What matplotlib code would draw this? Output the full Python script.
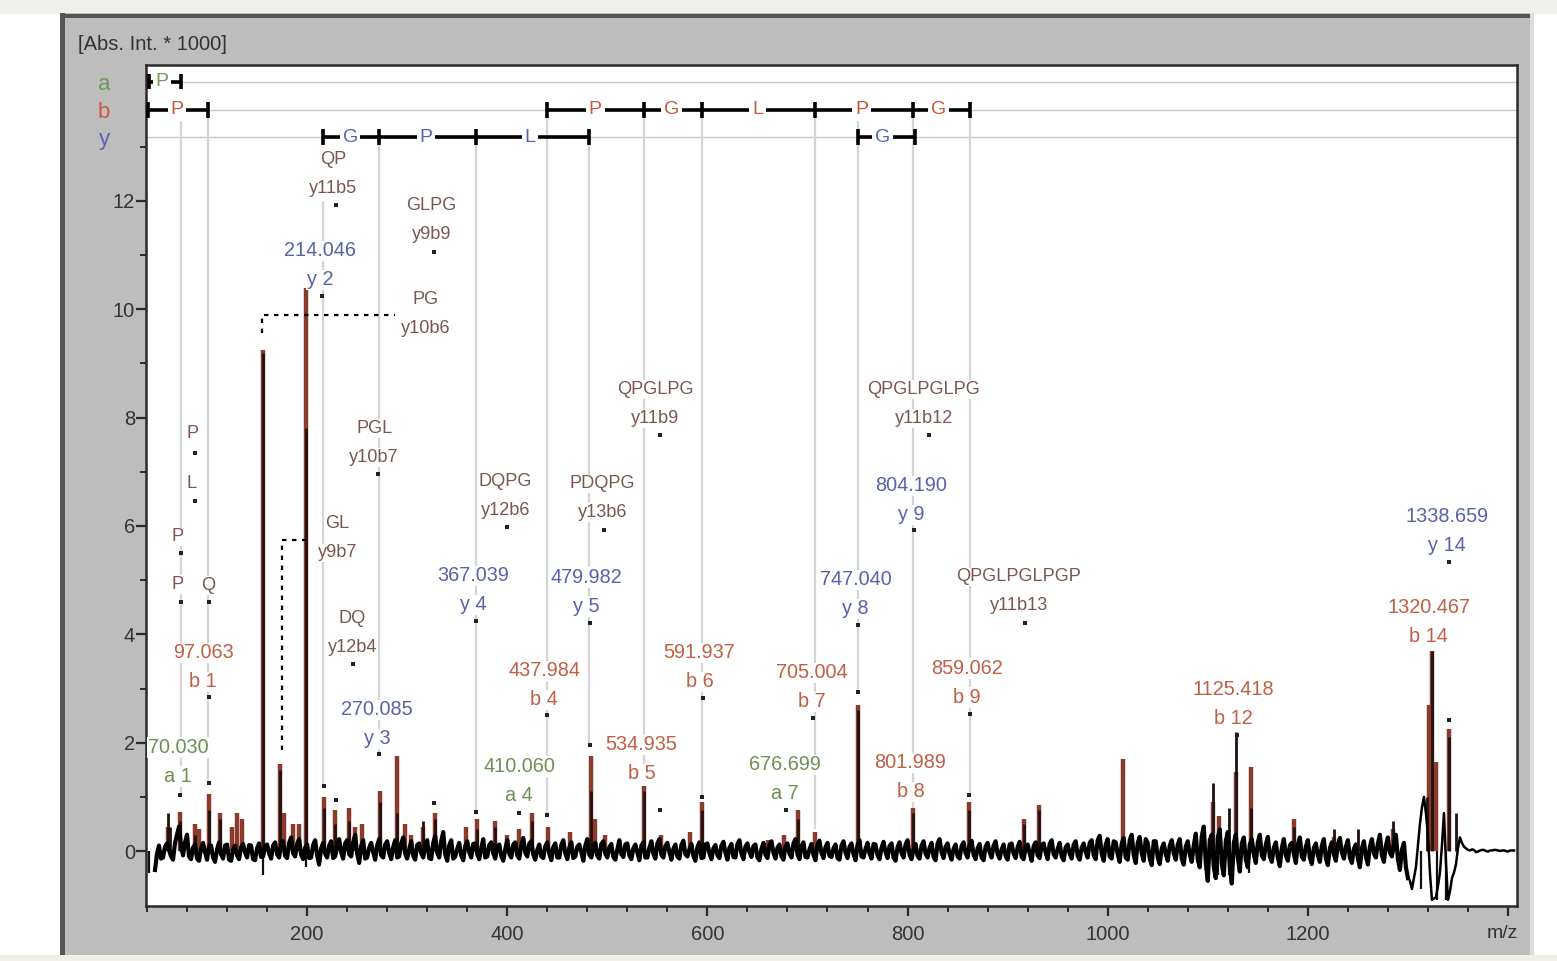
import matplotlib
matplotlib.use('Agg')
import numpy as np
import matplotlib.pyplot as plt
from matplotlib.patches import Rectangle

plt.rcParams['font.family'] = ['Liberation Sans', 'DejaVu Sans']

# black profile trace, read every 4 m/z from 48 up
profile = [
 -0.35, 0.10, -0.12, 0.14, -0.10, 0.15, 0.45, -0.08, 0.30, -0.15,
 0.12, -0.18, 0.15, -0.16, 0.10, -0.20, 0.16, -0.14, 0.12, -0.18,
 0.10, -0.15, 0.13, -0.12, 0.10, -0.17, 0.14, -0.10, 0.12, -0.14,
 0.16, -0.12, 0.18, -0.13, 0.25, -0.10, 0.22, -0.15, 0.12, -0.12,
 0.20, -0.25, 0.15, -0.12, 0.18, -0.10, 0.22, -0.14, 0.20, -0.10,
 0.30, -0.22, 0.20, -0.12, 0.15, -0.16, 0.22, -0.12, 0.18, -0.15,
 0.20, -0.10, 0.25, -0.14, 0.18, -0.16, 0.14, -0.12, 0.20, -0.15,
 0.28, -0.12, 0.35, -0.18, 0.20, -0.10, 0.15, -0.17, 0.18, -0.12,
 0.14, -0.15, 0.22, -0.10, 0.16, -0.14, 0.12, -0.18, 0.20, -0.12,
 0.16, -0.14, 0.24, -0.10, 0.18, -0.16, 0.12, -0.13, 0.16, -0.17,
 0.14, -0.12, 0.20, -0.15, 0.16, -0.10, 0.12, -0.18, 0.22, -0.12,
 0.15, -0.14, 0.18, -0.12, 0.13, -0.16, 0.20, -0.11, 0.14, -0.15,
 0.12, -0.17, 0.16, -0.12, 0.18, -0.14, 0.22, -0.12, 0.15, -0.16,
 0.12, -0.14, 0.19, -0.10, 0.13, -0.18, 0.16, -0.12, 0.14, -0.15,
 0.11, -0.13, 0.17, -0.16, 0.13, -0.12, 0.20, -0.15, 0.14, -0.11,
 0.12, -0.17, 0.15, -0.13, 0.18, -0.14, 0.12, -0.16, 0.14, -0.12,
 0.22, -0.15, 0.16, -0.12, 0.13, -0.17, 0.19, -0.13, 0.15, -0.11,
 0.12, -0.16, 0.18, -0.13, 0.14, -0.17, 0.20, -0.12, 0.15, -0.14,
 0.12, -0.15, 0.17, -0.13, 0.14, -0.18, 0.16, -0.12, 0.20, -0.15,
 0.13, -0.14, 0.18, -0.12, 0.15, -0.17, 0.22, -0.13, 0.14, -0.16,
 0.12, -0.14, 0.16, -0.12, 0.19, -0.15, 0.13, -0.17, 0.15, -0.12,
 0.18, -0.14, 0.12, -0.16, 0.14, -0.13, 0.17, -0.15, 0.12, -0.18,
 0.16, -0.13, 0.14, -0.15, 0.20, -0.12, 0.15, -0.17, 0.12, -0.14,
 0.18, -0.16, 0.14, -0.12, 0.20, -0.15, 0.28, -0.18, 0.22, -0.14,
 0.16, -0.20, 0.24, -0.16, 0.30, -0.22, 0.26, -0.18, 0.15, -0.26,
 0.18, -0.24, 0.14, -0.18, 0.20, -0.16, 0.22, -0.25, 0.18, -0.20,
 0.32, -0.30, 0.45, -0.55, 0.30, -0.50, 0.40, -0.45, 0.35, -0.60,
 0.30, -0.38, 0.25, -0.30, 0.22, -0.22, 0.30, -0.15, 0.26, -0.20,
 0.16, -0.28, 0.22, -0.18, 0.15, -0.22, 0.25, -0.16, 0.20, -0.24,
 0.14, -0.20, 0.22, -0.26, 0.16, -0.18, 0.24, -0.14, 0.20, -0.22,
 0.12, -0.30, 0.18, -0.25, 0.22, -0.12, 0.30, -0.20, 0.25, -0.10,
 0.30, -0.35, 0.15, -0.50, -0.70, -0.30, 0.50, 1.00, 0.30, -0.90,
 -0.85, -0.40, 0.70, -0.90, -0.50, -0.25, 0.25, 0.08, 0.02, 0.03,
 -0.02, 0.01, 0.02, -0.01, 0.01, 0.02, 0.00, 0.01, -0.01, 0.01,
]

# same trace, the points lying between the ones above
profile_mid = [
 -0.05, -0.14, 0.08, 0.02, -0.16, 0.30, 0.10, 0.16, -0.10, 0.06,
 -0.14, 0.04, -0.02, 0.09, -0.12, 0.03, -0.06, 0.10, -0.16, 0.02,
 -0.08, 0.07, -0.03, 0.11, -0.15, 0.05, -0.11, 0.08, -0.04, 0.10,
 -0.06, 0.12, -0.09, 0.15, -0.04, 0.13, -0.07, 0.06, -0.13, 0.11,
 -0.08, 0.05, -0.05, 0.10, -0.13, 0.07, -0.02, 0.14, -0.06, 0.16,
 -0.05, 0.09, -0.14, 0.06, -0.02, 0.10, -0.08, 0.12, -0.03, 0.07,
 -0.12, 0.14, -0.05, 0.03, -0.09, 0.11, -0.04, 0.08, -0.13, 0.15,
 -0.03, 0.18, -0.06, 0.10, -0.14, 0.04, -0.08, 0.09, -0.02, 0.13,
 -0.06, 0.05, -0.12, 0.11, -0.04, 0.08, -0.09, 0.03, -0.05, 0.12,
 -0.08, 0.10, -0.03, 0.14, -0.07, 0.02, -0.10, 0.09, -0.05, 0.07,
 -0.12, 0.11, -0.04, 0.06, -0.13, 0.08, -0.02, 0.10, -0.07, 0.04,
 -0.09, 0.13, -0.05, 0.07, -0.11, 0.03, -0.06, 0.12, -0.08, 0.05,
 -0.03, 0.10, -0.12, 0.06, -0.05, 0.14, -0.07, 0.09, -0.02, 0.04,
 -0.10, 0.11, -0.06, 0.03, -0.09, 0.07, -0.13, 0.12, -0.04, 0.05,
 -0.08, 0.10, -0.03, 0.06, -0.11, 0.13, -0.05, 0.08, -0.02, 0.09,
 -0.12, 0.04, -0.07, 0.11, -0.03, 0.06, -0.10, 0.08, -0.05, 0.14,
 -0.06, 0.09, -0.11, 0.03, -0.07, 0.12, -0.04, 0.07, -0.09, 0.05,
 -0.13, 0.10, -0.03, 0.08, -0.06, 0.11, -0.10, 0.04, -0.05, 0.13,
 -0.08, 0.06, -0.02, 0.09, -0.12, 0.07, -0.04, 0.12, -0.07, 0.03,
 -0.09, 0.10, -0.05, 0.06, -0.11, 0.14, -0.03, 0.08, -0.06, 0.04,
 -0.10, 0.09, -0.04, 0.11, -0.07, 0.05, -0.12, 0.08, -0.02, 0.10,
 -0.06, 0.03, -0.09, 0.12, -0.05, 0.07, -0.11, 0.06, -0.04, 0.09,
 -0.08, 0.11, -0.03, 0.13, -0.06, 0.04, -0.10, 0.07, -0.05, 0.12,
 -0.09, 0.06, -0.02, 0.15, -0.08, 0.20, -0.05, 0.12, -0.10, 0.18,
 -0.06, 0.14, -0.12, 0.20, -0.08, 0.15, -0.04, 0.22, -0.14, 0.18,
 -0.12, 0.05, -0.06, 0.10, -0.04, 0.12, -0.14, 0.08, -0.06, 0.10,
 -0.16, 0.28, -0.22, 0.20, -0.30, 0.25, -0.24, 0.18, -0.28, 0.15,
 -0.12, 0.14, -0.16, 0.12, -0.06, 0.16, -0.08, 0.12, -0.10, 0.06,
 -0.12, 0.06, -0.08, 0.10, -0.05, 0.12, -0.10, 0.08, -0.12, 0.06,
 -0.08, 0.10, -0.14, 0.05, -0.06, 0.12, -0.03, 0.08, -0.12, 0.04,
 -0.14, 0.05, -0.10, 0.08, -0.04, 0.14, -0.08, 0.10, -0.03, 0.12,
 -0.15, 0.02, -0.30, -0.55, -0.50, 0.10, 0.80, 0.70, -0.40, -0.88,
 -0.65, 0.10, -0.20, -0.75, -0.40, 0.05, 0.15, 0.05, 0.01, 0.02,
 -0.01, 0.02, 0.00, 0.01, 0.02, 0.01, 0.01, 0.00, 0.01, 0.01,
]

# assigned (red) sticks
red_mz = [61, 73, 88, 92, 102, 113, 125, 130, 135, 156, 173, 177, 186, 192, 199, 217, 228, 242, 248, 255,
          273, 290, 298, 304, 316, 328, 359, 370, 388, 400, 412, 425, 441, 463, 484, 488, 498,
          537, 554, 583, 595, 661, 677, 691, 708, 750, 805, 861, 916, 931, 1015, 1105, 1111,
          1128, 1143, 1186, 1226, 1285, 1321, 1324, 1328, 1341]
red_h = [0.45, 0.72, 0.50, 0.40, 1.05, 0.70, 0.45, 0.70, 0.60, 9.25, 1.60, 0.70, 0.50, 0.50, 10.40, 1.00, 0.75, 0.80, 0.45, 0.50,
         1.10, 1.75, 0.50, 0.30, 0.45, 0.70, 0.45, 0.60, 0.55, 0.30, 0.40, 0.70, 0.45, 0.35, 1.75, 0.60, 0.30,
         1.20, 0.30, 0.35, 0.90, 0.20, 0.30, 0.75, 0.35, 2.70, 0.80, 0.90, 0.60, 0.85, 1.70, 0.90, 0.65,
         1.45, 1.55, 0.60, 0.25, 0.40, 2.70, 3.70, 1.65, 2.25]

# black profile peak tops
black_mz = [61, 63, 73, 88, 102, 113, 156, 173, 199, 217, 228, 242, 273, 290, 316, 328, 370, 388, 425, 484,
            537, 595, 691, 750, 805, 861, 916, 931, 1105, 1121, 1128, 1143, 1186, 1226, 1250, 1285, 1319, 1324, 1341, 1348]
black_h = [0.70, 0.45, 0.55, 0.30, 0.75, 0.60, 9.20, 1.50, 7.80, 0.80, 0.50, 0.55, 0.90, 0.70, 0.55, 0.60, 0.40, 0.45, 0.55, 1.10,
           1.10, 0.75, 0.60, 2.60, 0.70, 0.75, 0.50, 0.75, 1.25, 0.80, 2.20, 0.80, 0.45, 0.40, 0.40, 0.55, 1.00, 3.70, 2.10, 0.70]

# negative spikes
dip_mz = [42, 156, 199, 1110, 1121, 1141, 1313, 1329, 1338]
dip_h = [-0.40, -0.45, -0.30, -0.45, -0.45, -0.40, -0.70, -0.90, -0.90]

# annotation: first line, second line, m/z, intensity of first line
a_labels = [('70.030', 'a 1', 71, 1.91), ('410.060', 'a 4', 412, 1.56), ('676.699', 'a 7', 677, 1.59)]
b_labels = [('97.063', 'b 1', 96, 3.66), ('437.984', 'b 4', 437, 3.33), ('534.935', 'b 5', 534, 1.96),
            ('591.937', 'b 6', 592, 3.66), ('705.004', 'b 7', 704, 3.29), ('801.989', 'b 8', 803, 1.63),
            ('859.062', 'b 9', 859, 3.37), ('1125.418', 'b 12', 1126, 2.98), ('1320.467', 'b 14', 1321, 4.49)]
y_labels = [('214.046', 'y 2', 213, 11.08), ('270.085', 'y 3', 270, 2.61), ('367.039', 'y 4', 366, 5.08),
            ('479.982', 'y 5', 479, 5.05), ('747.040', 'y 8', 748, 5.01), ('804.190', 'y 9', 804, 6.74),
            ('1338.659', 'y 14', 1339, 6.17)]
int_labels = [('QP', 'y11b5', 226, 12.76), ('GLPG', 'y9b9', 324, 11.91), ('PG', 'y10b6', 318, 10.18),
              ('PGL', 'y10b7', 267, 7.80), ('GL', 'y9b7', 230, 6.04), ('DQ', 'y12b4', 245, 4.29),
              ('DQPG', 'y12b6', 398, 6.82), ('PDQPG', 'y13b6', 495, 6.78), ('QPGLPG', 'y11b9', 548, 8.52),
              ('QPGLPGLPG', 'y11b12', 816, 8.52), ('QPGLPGLPGP', 'y11b13', 911, 5.06)]
single_labels = [('P', 86, 7.70), ('L', 85, 6.78), ('P', 71, 5.80), ('P', 71, 4.92), ('Q', 101, 4.90)]

dot_mz = [88, 88, 74, 74, 102, 229, 327, 215, 271, 369, 483, 750, 806, 1341, 917, 1129, 102, 440, 596, 706,
          862, 553, 73, 412, 679, 272, 400, 497, 553, 821, 246, 750, 483, 537, 1341, 861, 595, 217, 229, 102,
          327, 369, 440]
dot_y = [7.35, 6.46, 5.50, 4.60, 4.60, 11.93, 11.06, 10.25, 6.96, 4.25, 4.21, 4.17, 5.93, 5.34, 4.21, 2.14, 2.84, 2.51, 2.82, 2.46,
         2.53, 0.75, 1.03, 0.70, 0.76, 1.79, 5.98, 5.93, 7.68, 7.68, 3.45, 2.93, 1.96, 1.30, 2.42, 1.03, 1.00, 1.20, 0.95, 1.25,
         0.88, 0.72, 0.66]

# gray guide lines from the sequence ladder down to the peak
guide_mz = [74, 101, 216, 272, 369, 440, 482, 537, 595, 708, 750, 805, 862]
guide_top = [13.7, 13.7, 12.0, 13.2, 13.2, 13.7, 13.2, 13.7, 13.7, 13.7, 13.7, 13.7, 13.7]
guide_end = [1.03, 1.25, 1.20, 1.79, 0.72, 0.66, 1.96, 1.30, 1.00, 0.40, 2.93, 0.80, 1.03]

# sequence ladder
row_names = ['a', 'b', 'y']
row_y = [14.2, 13.68, 13.18]
row_col = ['#6f9a5c', '#c9583c', '#5a64b0']
ladder_ticks = [
    [[42, 74]],
    [[41, 101], [440, 537, 595, 708, 805, 862]],
    [[216, 272, 369, 482], [750, 807]],
]
ladder_letters = [
    [('P', 55)],
    [('P', 70), ('P', 488), ('G', 564), ('L', 650), ('P', 754), ('G', 831)],
    [('G', 243), ('P', 319), ('L', 423), ('G', 775)],
]

GREEN = '#6f8f55'
ORANGE = '#bf5f43'
BLUE = '#5862a8'
BROWN = '#7c5650'
RED = '#8c3a2b'

fig = plt.figure(figsize=(15.57, 9.61), dpi=100, facecolor='white')
fig.add_artist(Rectangle((0, 1-14/961), 1, 14/961, transform=fig.transFigure,
                         facecolor='#f1efe9', edgecolor='none', zorder=-3))
fig.add_artist(Rectangle((0, 0), 1, 6/961, transform=fig.transFigure,
                         facecolor='#f1efe9', edgecolor='none', zorder=-3))
fig.add_artist(Rectangle((60/1557, 1-955/961), 1474/1557, 942/961, transform=fig.transFigure,
                         facecolor='#bdbdbd', edgecolor='none', zorder=-2))
fig.add_artist(Rectangle((60/1557, 1-18/961), 1474/1557, 4/961, transform=fig.transFigure,
                         facecolor='#555555', edgecolor='none', zorder=-1))
fig.add_artist(Rectangle((60/1557, 1-955/961), 5/1557, 942/961, transform=fig.transFigure,
                         facecolor='#555555', edgecolor='none', zorder=-1))
fig.add_artist(Rectangle((1530/1557, 1-955/961), 4/1557, 942/961, transform=fig.transFigure,
                         facecolor='#dedddb', edgecolor='none', zorder=-1))

ax = fig.add_axes([146/1557, 1-906/961, 1371/1557, 841/961])
ax.set_xlim(39, 1409)
ax.set_ylim(-1.015, 14.51)
for s in ax.spines.values():
    s.set_color('#2a2a2a')
    s.set_linewidth(1.8)

for y in row_y:
    ax.axhline(y, color='#c8c8c8', lw=1, zorder=1)
ax.vlines(guide_mz, guide_end, guide_top, color='#d2d4d6', lw=1.6, zorder=1)

ax.vlines(red_mz, 0, red_h, color=RED, lw=3.2, zorder=2)
ax.vlines(black_mz, 0, black_h, color='#1f1210', lw=2.0, zorder=3)
ax.vlines(dip_mz, 0, dip_h, color='#111111', lw=1.6, zorder=3)
trace = np.empty(len(profile) * 2)
trace[::2] = profile
trace[1::2] = profile_mid
trace_mz = 48 + 2 * np.arange(len(trace))
# the noise band is thick, the part after the last cluster is a thin line
thick = trace_mz <= 1300
ax.plot(trace_mz[thick], trace[thick], color='black', lw=3.0, zorder=4)
ax.plot(trace_mz[~thick], trace[~thick], color='black', lw=1.8, zorder=4)

# dotted fragment links
ax.plot([155, 155, 288], [9.56, 9.90, 9.90], color='black', lw=1.6, ls=(0, (2, 2.5)), zorder=4)
ax.plot([175, 175, 203], [1.86, 5.74, 5.74], color='black', lw=1.6, ls=(0, (2, 2.5)), zorder=4)
ax.scatter(dot_mz, dot_y, s=7, color='#222222', marker='s', zorder=5, linewidths=0)

for i, ticks in enumerate(ladder_ticks):
    for group in ticks:
        ax.hlines(row_y[i], group[0], group[-1], color='black', lw=2.6, zorder=4)
        ax.vlines(group, row_y[i] - 0.14, row_y[i] + 0.14, color='black', lw=2.6, zorder=4)
    for letter, mz in ladder_letters[i]:
        ax.text(mz, row_y[i], letter, color=row_col[i], fontsize=14, ha='center', va='center', zorder=6,
                bbox=dict(facecolor='white', edgecolor='none', pad=2))

def put_labels(labels, color, size=14.3):
    for top, bottom, mz, y in labels:
        ax.text(mz, y, top, color=color, fontsize=size, ha='center', va='center', zorder=6,
                bbox=dict(facecolor='white', edgecolor='none', pad=0.5))
        ax.text(mz, y - 0.535, bottom, color=color, fontsize=size, ha='center', va='center', zorder=6,
                bbox=dict(facecolor='white', edgecolor='none', pad=0.5))

put_labels(a_labels, GREEN)
put_labels(b_labels, ORANGE)
put_labels(y_labels, BLUE)
put_labels(int_labels, BROWN, size=13.1)
for letter, mz, y in single_labels:
    ax.text(mz, y, letter, color=BROWN, fontsize=13.1, ha='center', va='center', zorder=6,
            bbox=dict(facecolor='white', edgecolor='none', pad=0.5))

ax.set_xticks([200, 400, 600, 800, 1000, 1200, 1400])
ax.set_xticklabels(['200', '400', '600', '800', '1000', '1200', ''])
ax.set_xticks(np.arange(40, 1401, 40), minor=True)
ax.set_yticks([0, 2, 4, 6, 8, 10, 12])
ax.set_yticks([1, 3, 5, 7, 9, 11, 13], minor=True)
ax.tick_params(axis='both', which='major', length=7, width=1.6, color='#2a2a2a', labelsize=14.5,
               labelcolor='#333333', pad=7)
ax.tick_params(axis='y', which='major', pad=1)
ax.tick_params(axis='both', which='minor', length=4, width=1.4, color='#2a2a2a')

for i, name in enumerate(row_names):
    fig.text(104/1557, 1-(85 + 27*i)/961, name, color=row_col[i], fontsize=16, ha='center', va='center')
fig.text(78/1557, 1-44/961, '[Abs. Int. * 1000]', color='#333333', fontsize=14.5, ha='left', va='center')
fig.text(1502/1557, 1-934/961, 'm/z', color='#333333', fontsize=14, ha='center', va='center')

fig.savefig('out.png', dpi=100, facecolor=fig.get_facecolor())
plt.close(fig)
